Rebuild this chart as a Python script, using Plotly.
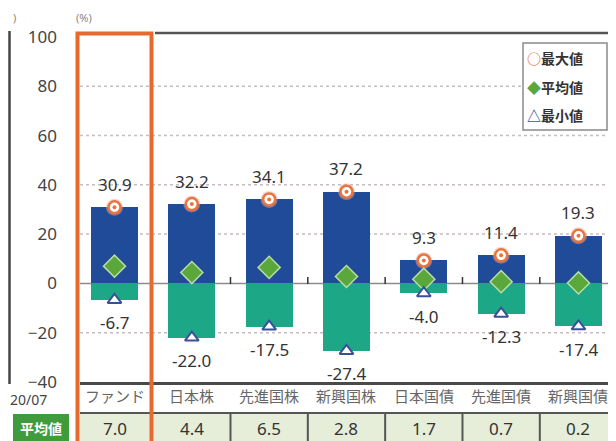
import plotly.graph_objects as go

categories = ["ファンド", "日本株", "先進国株", "新興国株", "日本国債", "先進国債", "新興国債"]
max_vals = [30.9, 32.2, 34.1, 37.2, 9.3, 11.4, 19.3]
avg_vals = [7.0, 4.4, 6.5, 2.8, 1.7, 0.7, 0.2]
min_vals = [-6.7, -22.0, -17.5, -27.4, -4.0, -12.3, -17.4]
series_names = ["最大値", "平均値", "最小値"]
y_ticks = [-40, -20, 0, 20, 40, 60, 80, 100]
grid_vals = [-20, 20, 40, 60, 80]
row_label = "平均値"
unit_label = "(%)"
left_date = "20/07"

# page body has an 8px margin; figure covers reference pixels 8..616 x 8..441
OFF = 8
W, H = 616 - OFF, 441 - OFF
def px(p):
    return (p - OFF) / W
def py(p):
    return 1 - (p - OFF) / H

BLUE = "#1f4b99"
TEAL = "#1ca887"
ORANGE = "#e8743f"
GREEN = "#5aa83c"
TRI = "#3b4f96"
FONT = "Noto Sans, Noto Sans CJK JP, sans-serif"

idx = list(range(len(categories)))

fig = go.Figure()
fig.add_trace(go.Bar(x=idx, y=max_vals, width=0.61, marker=dict(color=BLUE, line=dict(width=0)),
                     showlegend=False, hoverinfo="skip"))
fig.add_trace(go.Bar(x=idx, y=min_vals, width=0.61, marker=dict(color=TEAL, line=dict(width=0)),
                     showlegend=False, hoverinfo="skip"))
# max markers (halo + ring + center dot)
fig.add_trace(go.Scatter(x=idx, y=max_vals, mode="markers", name=series_names[0], showlegend=False,
                         marker=dict(symbol="circle", size=17, color="rgba(240,170,150,0.45)", line=dict(width=0))))
fig.add_trace(go.Scatter(x=idx, y=max_vals, mode="markers", showlegend=False,
                         marker=dict(symbol="circle", size=12, color="white", line=dict(color=ORANGE, width=2.5))))
fig.add_trace(go.Scatter(x=idx, y=max_vals, mode="markers", showlegend=False,
                         marker=dict(symbol="circle", size=4, color=ORANGE, line=dict(width=0))))
# avg markers
fig.add_trace(go.Scatter(x=idx, y=avg_vals, mode="markers", name=series_names[1], showlegend=False,
                         marker=dict(symbol="diamond", size=17, color=GREEN, line=dict(color="#b8dca4", width=1.5))))
# min markers
fig.add_trace(go.Scatter(x=idx, y=min_vals, mode="markers", name=series_names[2], showlegend=False,
                         marker=dict(symbol="triangle-up", size=12, color="white", line=dict(color=TRI, width=2))))

shapes = []
for v in grid_vals:
    shapes.append(dict(type="line", xref="paper", yref="y", x0=px(80), x1=1, y0=v, y1=v,
                       line=dict(color="#c6bcc4", width=1.5, dash="dot"), layer="below"))
shapes.append(dict(type="line", xref="paper", yref="y", x0=px(80), x1=1, y0=0, y1=0,
                   line=dict(color="#8c8c8c", width=1.5), layer="below"))
for i in range(1, len(categories) - 1):
    shapes.append(dict(type="line", xref="x", yref="paper", x0=i + 0.5, x1=i + 0.5,
                       y0=py(284), y1=py(277), line=dict(color="#333333", width=1.5), layer="below"))
# top border
shapes.append(dict(type="line", xref="paper", yref="paper", x0=px(155), x1=1, y0=py(33), y1=py(33),
                   line=dict(color="#555555", width=2.5)))
# bottom axis line
shapes.append(dict(type="line", xref="paper", yref="paper", x0=px(80), x1=1, y0=py(383.5), y1=py(383.5),
                   line=dict(color="#4a4a4a", width=3)))
# left panel frame edge
shapes.append(dict(type="line", xref="paper", yref="paper", x0=px(9.5), x1=px(9.5), y0=py(31), y1=py(384),
                   line=dict(color="#444444", width=2.5)))
# table
shapes.append(dict(type="rect", xref="paper", yref="paper", x0=px(80), x1=1, y0=py(441), y1=py(414),
                   fillcolor="#e6edd8", line=dict(width=0), layer="below"))
shapes.append(dict(type="line", xref="paper", yref="paper", x0=px(80), x1=1, y0=py(413), y1=py(413),
                   line=dict(color="#555555", width=2)))
for i in range(1, len(categories) - 1):
    shapes.append(dict(type="line", xref="x", yref="paper", x0=i + 0.5, x1=i + 0.5,
                       y0=py(414), y1=py(441), line=dict(color="#555555", width=2)))
shapes.append(dict(type="rect", xref="paper", yref="paper", x0=px(13), x1=px(69), y0=py(441), y1=py(414),
                   fillcolor="#3f9b3c", line=dict(width=0)))
# legend box
shapes.append(dict(type="rect", xref="paper", yref="paper", x0=px(523), x1=px(607), y0=py(130), y1=py(43),
                   fillcolor="white", line=dict(color="#8a8a8a", width=1.5)))
# orange highlight box
shapes.append(dict(type="rect", xref="paper", yref="paper", x0=px(77.5), x1=px(151.5), y0=py(470), y1=py(33.5),
                   line=dict(color="#e8692e", width=4)))

ann = []
def txt(x, y, text, size, color, xref="paper", yref="paper", xanchor="center", yshift=0, family=FONT):
    ann.append(dict(x=x, y=y, xref=xref, yref=yref, text=text, showarrow=False,
                    xanchor=xanchor, yanchor="middle", yshift=yshift,
                    font=dict(size=size, color=color, family=family)))

for i, v in enumerate(max_vals):
    txt(i, v, f"{v:.1f}", 17, "#333333", xref="x", yref="y", yshift=23)
for i, v in enumerate(min_vals):
    txt(i, v, f"{v:.1f}", 17, "#333333", xref="x", yref="y", yshift=-23)
for i, c in enumerate(categories):
    txt(i, py(396), c, 15, "#666666", xref="x")
for i, v in enumerate(avg_vals):
    txt(i, py(428), f"{v:.1f}", 17, "#333333", xref="x")
txt(px(41), py(428), f"<b>{row_label}</b>", 14, "white")
txt(px(84), py(17.5), unit_label, 11, "#888888")
txt(px(11), py(17.5), ")", 11, "#888888", xanchor="left")
txt(px(49), py(399), left_date, 14, "#444444", xanchor="right")
leg_colors = [ORANGE, GREEN, TRI]
leg_syms = ["○", "◆", "△"]
for k, (nm, col, sym) in enumerate(zip(series_names, leg_colors, leg_syms)):
    txt(px(525), py(58 + 28.5 * k), f"<span style='color:{col}'><b>{sym}</b></span><b>{nm}</b>", 14,
        "#333333", xanchor="left", family="Noto Sans CJK JP")

fig.update_layout(
    width=W, height=H,
    margin=dict(l=0, r=0, t=0, b=0),
    paper_bgcolor="white", plot_bgcolor="rgba(0,0,0,0)",
    barmode="overlay", bargap=0,
    font=dict(family=FONT),
    shapes=shapes, annotations=ann,
    showlegend=False,
    xaxis=dict(domain=[(68 - OFF) / W, 1], range=[-0.6013, 6.4852], showgrid=False, zeroline=False,
               showticklabels=False, showline=False, ticks="", fixedrange=True),
    yaxis=dict(domain=[0, 1], range=[-63.96, 111.77], tickvals=y_ticks, showgrid=False, zeroline=False,
               showline=False, ticks="", automargin=False, ticklabelstandoff=10,
               tickfont=dict(size=17, color="#444444", family=FONT), fixedrange=True),
)

fig.write_html("out.html")
